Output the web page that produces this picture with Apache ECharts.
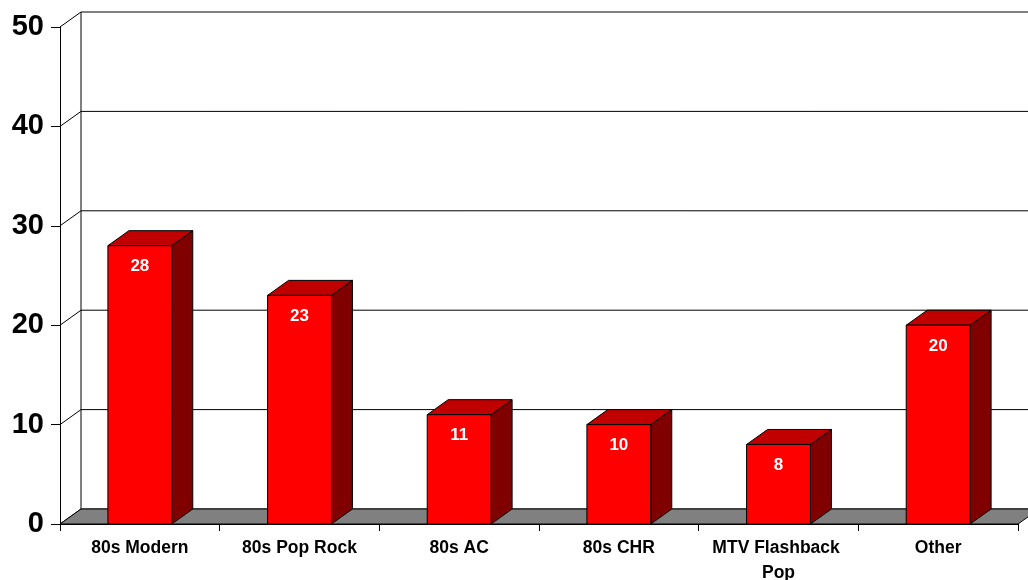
<!DOCTYPE html>
<html>
<head>
<meta charset="utf-8">
<script src="https://cdn.jsdelivr.net/npm/echarts@6/dist/echarts.min.js"></script>
<style>
  html, body { margin: 0; padding: 0; background: #fff; overflow: hidden; }
  #chart { width: 1028px; height: 580px; }
</style>
</head>
<body>
<div id="chart"></div>
<script>
// Station format shares
const categories = ['80s Modern', '80s Pop Rock', '80s AC', '80s CHR', 'MTV Flashback Pop', 'Other'];
const values = [28, 23, 11, 10, 8, 20];
const yTicks = [0, 10, 20, 30, 40, 50];

// depth offset of the 3D box (pixels)
const DX = 21, DY = -15;
const FONT = 'Liberation Sans, Arial, sans-serif';

const chart = echarts.init(document.getElementById('chart'));

// back wall, side wall and floor of the 3D frame
function renderFrame(params, api) {
  const cs = params.coordSys;
  const x0 = cs.x, x1 = cs.x + cs.width;
  const children = [];
  const yBottom = api.coord([0, yTicks[0]])[1];
  const yTop = api.coord([0, yTicks[yTicks.length - 1]])[1];
  // back wall
  children.push({
    type: 'polygon',
    shape: { points: [[x0 + DX, yTop + DY], [x1 + DX, yTop + DY], [x1 + DX, yBottom + DY], [x0 + DX, yBottom + DY]] },
    style: { fill: '#fff', stroke: null }
  });
  // gridlines on back wall and diagonals on side wall
  yTicks.forEach(function (t) {
    const y = api.coord([0, t])[1];
    children.push({
      type: 'polyline',
      shape: { points: [[x0, y], [x0 + DX, y + DY], [x1 + DX, y + DY]] },
      style: { stroke: '#000', lineWidth: 1, fill: null }
    });
  });
  // back vertical edge
  children.push({
    type: 'line',
    shape: { x1: x0 + DX, y1: yTop + DY, x2: x0 + DX, y2: yBottom + DY },
    style: { stroke: '#000', lineWidth: 1 }
  });
  // floor
  children.push({
    type: 'polygon',
    shape: { points: [[x0, yBottom], [x1, yBottom], [x1 + DX, yBottom + DY], [x0 + DX, yBottom + DY]] },
    style: { fill: '#808080', stroke: '#000', lineWidth: 1 }
  });
  return { type: 'group', children: children };
}

// 3D bar: front face, top face, right side face
function renderBar(params, api) {
  const idx = api.value(0);
  const val = api.value(1);
  const top = api.coord([idx, val]);
  const base = api.coord([idx, 0]);
  const bw = api.size([1, 0])[0] * 0.4;
  const l = top[0] - bw / 2, r = top[0] + bw / 2;
  const yt = top[1], yb = base[1];
  const edge = { stroke: '#000', lineWidth: 1 };
  return {
    type: 'group',
    children: [
      {
        type: 'polygon',
        shape: { points: [[r, yt], [r + DX, yt + DY], [r + DX, yb + DY], [r, yb]] },
        style: Object.assign({ fill: '#800000' }, edge)
      },
      {
        type: 'polygon',
        shape: { points: [[l, yt], [l + DX, yt + DY], [r + DX, yt + DY], [r, yt]] },
        style: Object.assign({ fill: '#C00000' }, edge)
      },
      {
        type: 'rect',
        shape: { x: l, y: yt, width: r - l, height: yb - yt },
        style: Object.assign({ fill: '#FF0000' }, edge)
      },
      {
        type: 'text',
        x: top[0], y: yt + 21,
        style: {
          text: String(val), fill: '#fff', font: 'bold 17px ' + FONT,
          align: 'center', verticalAlign: 'middle'
        }
      }
    ]
  };
}

chart.setOption({
  animation: false,
  backgroundColor: '#fff',
  grid: {
    left: 60, top: 27, width: 958, height: 497,
    containLabel: false, outerBoundsMode: 'none'
  },
  xAxis: {
    type: 'category',
    data: categories,
    axisLine: { show: true, lineStyle: { color: '#000', width: 1 } },
    axisTick: { show: true, length: 7, lineStyle: { color: '#000' } },
    axisLabel: {
      color: '#000', fontFamily: FONT, fontWeight: 'bold', fontSize: 17.5,
      margin: 12, lineHeight: 25, width: 140, overflow: 'break', interval: 0
    },
    splitLine: { show: false }
  },
  yAxis: {
    type: 'value',
    min: 0, max: 50, interval: 10,
    axisLine: { show: true, lineStyle: { color: '#000', width: 1 } },
    axisTick: { show: true, length: 9, lineStyle: { color: '#000' } },
    axisLabel: {
      color: '#000', fontFamily: FONT, fontWeight: 'bold', fontSize: 29, margin: 16
    },
    splitLine: { show: false }
  },
  series: [
    {
      type: 'custom',
      z: 1,
      renderItem: renderFrame,
      data: [[0, 0]],
      silent: true
    },
    {
      type: 'custom',
      z: 3,
      renderItem: renderBar,
      data: values.map(function (v, i) { return [i, v]; })
    }
  ]
});
</script>
</body>
</html>
